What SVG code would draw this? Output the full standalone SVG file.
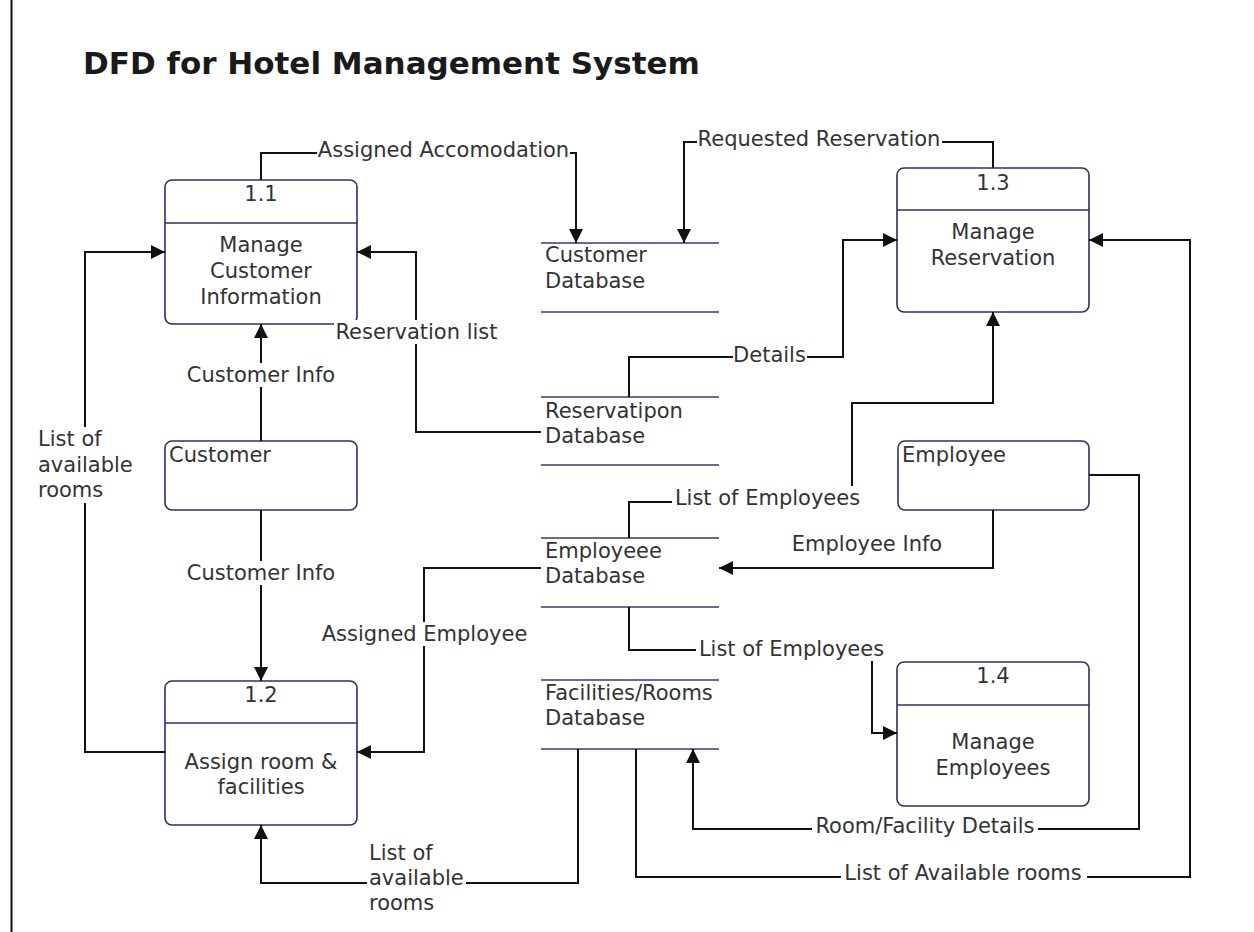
<svg xmlns="http://www.w3.org/2000/svg" width="1254" height="932" viewBox="0 0 1254 932">
<defs>
<marker id="arr" markerUnits="userSpaceOnUse" markerWidth="16" markerHeight="16" refX="14" refY="7" orient="auto">
<path d="M0,0 L14,7 L0,14 z" fill="#111"/>
</marker>
<style>
.box{fill:#fff;stroke:#2f2f66;stroke-width:1.6}
.div{stroke:#2f2f66;stroke-width:1.6}
.store{stroke:#3a3a6e;stroke-width:1.6}
.t{font-family:"DejaVu Sans",Verdana,sans-serif;font-size:21px;fill:#333}
.c{text-anchor:middle}
.ln{fill:none;stroke:#111;stroke-width:2}
.ar{marker-end:url(#arr)}
.bg{fill:#fff}
</style>
</defs>
<rect width="1254" height="932" fill="#fff"/>
<line x1="11.5" y1="0" x2="11.5" y2="932" stroke="#111" stroke-width="2"/>
<text x="83" y="74" font-family="'DejaVu Sans',Verdana,sans-serif" font-weight="bold" font-size="31" fill="#1a1a1a">DFD for Hotel Management System</text>

<g id="p11">
<rect class="box" x="165" y="180" width="192" height="144" rx="7"/>
<line class="div" x1="165" y1="223" x2="357" y2="223"/>
<text class="t c" x="261" y="201">1.1</text>
<text class="t c" x="261" y="252">Manage</text>
<text class="t c" x="261" y="278">Customer</text>
<text class="t c" x="261" y="304">Information</text>
</g>
<g id="customer">
<rect class="box" x="165" y="441" width="192" height="69" rx="7"/>
<text class="t" x="169" y="462">Customer</text>
</g>
<g id="p12">
<rect class="box" x="165" y="681" width="192" height="144" rx="7"/>
<line class="div" x1="165" y1="723" x2="357" y2="723"/>
<text class="t c" x="261" y="702">1.2</text>
<text class="t c" x="261" y="769">Assign room &amp;</text>
<text class="t c" x="261" y="794">facilities</text>
</g>
<g id="p13">
<rect class="box" x="897" y="168" width="192" height="144" rx="7"/>
<line class="div" x1="897" y1="210" x2="1089" y2="210"/>
<text class="t c" x="993" y="190">1.3</text>
<text class="t c" x="993" y="239">Manage</text>
<text class="t c" x="993" y="265">Reservation</text>
</g>
<g id="employee">
<rect class="box" x="898" y="441" width="191" height="69" rx="7"/>
<text class="t" x="902" y="462">Employee</text>
</g>
<g id="p14">
<rect class="box" x="897" y="662" width="192" height="144" rx="7"/>
<line class="div" x1="897" y1="705" x2="1089" y2="705"/>
<text class="t c" x="993" y="683">1.4</text>
<text class="t c" x="993" y="749">Manage</text>
<text class="t c" x="993" y="775">Employees</text>
</g>
<g id="ds-customer">
<line class="store" x1="541" y1="243" x2="719" y2="243" stroke="#333"/>
<line class="store" x1="541" y1="312" x2="719" y2="312"/>
<text class="t" x="545" y="262">Customer</text>
<text class="t" x="545" y="288">Database</text>
</g>
<g id="ds-reservation">
<line class="store" x1="541" y1="397" x2="719" y2="397"/>
<line class="store" x1="541" y1="465" x2="719" y2="465"/>
<text class="t" x="545" y="418">Reservatipon</text>
<text class="t" x="545" y="443">Database</text>
</g>
<g id="ds-employee">
<line class="store" x1="541" y1="538" x2="719" y2="538"/>
<line class="store" x1="541" y1="607" x2="719" y2="607"/>
<text class="t" x="545" y="558">Employeee</text>
<text class="t" x="545" y="583">Database</text>
</g>
<g id="ds-facilities">
<line class="store" x1="541" y1="680" x2="719" y2="680"/>
<line class="store" x1="541" y1="749" x2="719" y2="749"/>
<text class="t" x="545" y="700">Facilities/Rooms</text>
<text class="t" x="545" y="725">Database</text>
</g>

<g id="connectors">
<path class="ln ar" d="M261,180 V153 H576 V243"/>
<path class="ln ar" d="M993,168 V142 H684 V243"/>
<path class="ln ar" d="M541,432 H416 V252 H357"/>
<path class="ln ar" d="M261,441 V324"/>
<path class="ln ar" d="M261,510 V681"/>
<path class="ln ar" d="M165,752 H85 V252 H165"/>
<path class="ln ar" d="M629,397 V357 H843 V240 H897"/>
<path class="ln ar" d="M629,538 V502 H852 V403 H993 V312"/>
<path class="ln ar" d="M993,510 V568 H719"/>
<path class="ln ar" d="M541,568 H424 V752 H357"/>
<path class="ln ar" d="M629,607 V650 H872 V733 H897"/>
<path class="ln ar" d="M1089,475 H1139 V829 H693 V749"/>
<path class="ln ar" d="M636,749 V877 H1190 V240 H1089"/>
<path class="ln ar" d="M578,749 V883 H261 V825"/>

<rect class="bg" x="317" y="140" width="253" height="24"/>
<text class="t c" x="443.5" y="157">Assigned Accomodation</text>
<rect class="bg" x="697" y="129" width="245" height="24"/>
<text class="t c" x="819" y="146">Requested Reservation</text>
<rect class="bg" x="334" y="320" width="166" height="24"/>
<text class="t c" x="416.5" y="339">Reservation list</text>
<rect class="bg" x="185" y="363" width="152" height="24"/>
<text class="t c" x="261" y="382">Customer Info</text>
<rect class="bg" x="185" y="561" width="152" height="24"/>
<text class="t c" x="261" y="580">Customer Info</text>
<rect class="bg" x="733" y="343" width="74" height="24"/>
<text class="t c" x="769.5" y="362">Details</text>
<rect class="bg" x="672" y="486" width="192" height="24"/>
<text class="t c" x="767.5" y="505">List of Employees</text>
<text class="t c" x="867" y="551">Employee Info</text>
<rect class="bg" x="320" y="622" width="210" height="24"/>
<text class="t c" x="424.5" y="641">Assigned Employee</text>
<rect class="bg" x="696" y="637" width="192" height="24"/>
<text class="t c" x="791.5" y="656">List of Employees</text>
<rect class="bg" x="812" y="816" width="226" height="24"/>
<text class="t c" x="925" y="833">Room/Facility Details</text>
<rect class="bg" x="841" y="863" width="246" height="24"/>
<text class="t c" x="963" y="880">List of Available rooms</text>
<rect class="bg" x="36" y="427" width="74" height="76"/>
<text class="t" x="38" y="446">List of</text>
<text class="t" x="38" y="472">available</text>
<text class="t" x="38" y="497">rooms</text>
<rect class="bg" x="367" y="842" width="99" height="74"/>
<text class="t" x="369" y="860">List of</text>
<text class="t" x="369" y="885">available</text>
<text class="t" x="369" y="910">rooms</text>
</g>
</svg>
